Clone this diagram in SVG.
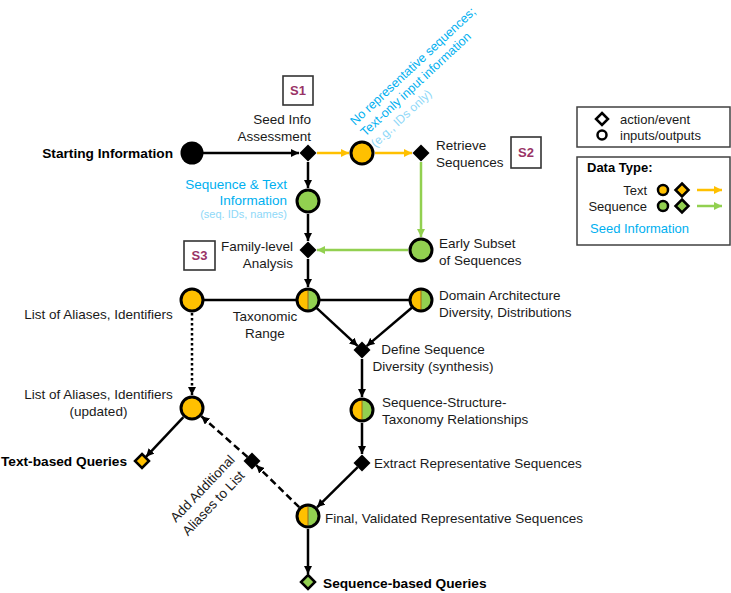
<svg xmlns="http://www.w3.org/2000/svg" width="731" height="593" viewBox="0 0 731 593">
<style>
text{font-family:"Liberation Sans",Arial,sans-serif;font-size:13.5px;fill:#1a1a1a}
.b{font-weight:bold;font-size:13.7px;fill:#000}
.blue{fill:#00B0F0}
.lblue{fill:#8ED8F8;font-size:11px}
.s{font-weight:bold;font-size:13px;fill:#993366}
.sbox{fill:#fff;stroke:#333;stroke-width:1.6}
.c{stroke:#000;stroke-width:2.5;fill:none}
.co{stroke:#FFC000;stroke-width:2.5;fill:none}
.cg{stroke:#92D050;stroke-width:2.5;fill:none}
.node{stroke:#000;stroke-width:3}
.o{fill:#FFC000}
.g{fill:#92D050}
.dia{fill:#000}
</style>
<defs>
<marker id="ak" viewBox="0 0 10 10" refX="10" refY="5" markerWidth="8" markerHeight="8" markerUnits="userSpaceOnUse" orient="auto"><path d="M0,0 L10,5 L0,10 z" fill="#000"/></marker>
<marker id="ao" viewBox="0 0 10 10" refX="10" refY="5" markerWidth="8" markerHeight="8" markerUnits="userSpaceOnUse" orient="auto"><path d="M0,0 L10,5 L0,10 z" fill="#FFC000"/></marker>
<marker id="ag" viewBox="0 0 10 10" refX="10" refY="5" markerWidth="8" markerHeight="8" markerUnits="userSpaceOnUse" orient="auto"><path d="M0,0 L10,5 L0,10 z" fill="#92D050"/></marker>
</defs>
<rect width="731" height="593" fill="#fff"/>

<g id="connectors">
<line class="c" x1="203" y1="153" x2="299" y2="153" marker-end="url(#ak)"/>
<line class="co" x1="317" y1="153" x2="349" y2="153" marker-end="url(#ao)"/>
<line class="co" x1="375" y1="153" x2="412" y2="153" marker-end="url(#ao)"/>
<line class="c" x1="308" y1="162" x2="308" y2="188" marker-end="url(#ak)"/>
<line class="cg" x1="421" y1="162" x2="421" y2="237" marker-end="url(#ag)"/>
<line class="cg" x1="408" y1="250" x2="317" y2="250" marker-end="url(#ag)"/>
<line class="c" x1="308" y1="214" x2="308" y2="241" marker-end="url(#ak)"/>
<line class="c" x1="308" y1="259" x2="308" y2="287" marker-end="url(#ak)"/>
<line class="c" x1="200" y1="300" x2="414" y2="300"/>
<line class="c" x1="316.8" y1="308.2" x2="357.6" y2="345.9" marker-end="url(#ak)"/>
<line class="c" x1="411.8" y1="307.8" x2="366.6" y2="346.1" marker-end="url(#ak)"/>
<line class="c" x1="192" y1="313" x2="192" y2="395" stroke-dasharray="2.5 2.5" marker-end="url(#ak)"/>
<line class="c" x1="362" y1="359" x2="362" y2="397" marker-end="url(#ak)"/>
<line class="c" x1="362" y1="423" x2="362" y2="454" marker-end="url(#ak)"/>
<line class="c" x1="357.7" y1="467.2" x2="317" y2="507.3" marker-end="url(#ak)"/>
<line class="c" x1="299.2" y1="507.2" x2="256.2" y2="465.2" stroke-dasharray="7 4" marker-end="url(#ak)"/>
<line class="c" x1="247.5" y1="457" x2="201.4" y2="416.3" stroke-dasharray="7 4" marker-end="url(#ak)"/>
<line class="c" x1="183.4" y1="417.1" x2="146" y2="456.8" marker-end="url(#ak)"/>
<line class="c" x1="308" y1="529" x2="308" y2="574" marker-end="url(#ak)"/>
</g>

<g id="start">
<circle cx="192" cy="153" r="11.5" fill="#000"/>
<text class="b" x="173" y="158" text-anchor="end">Starting Information</text>
</g>

<g id="seed-info">
<path class="dia" d="M308,144.5 L316.5,153 L308,161.5 L299.5,153 z"/>
<text x="311" y="124" text-anchor="end">Seed Info</text>
<text x="311" y="141" text-anchor="end">Assessment</text>
<rect class="sbox" x="283" y="76" width="30" height="29"/>
<text class="s" x="298" y="95" text-anchor="middle">S1</text>
</g>

<g id="text-only">
<circle class="node o" cx="362" cy="153" r="11"/>
<g transform="translate(355,126) rotate(-43)">
<text class="blue" x="0" y="0" style="font-size:12.5px">No representative sequences;</text>
<text class="blue" x="0" y="15" style="font-size:12.5px">Text-only input information</text>
<text class="lblue" x="0" y="30" style="font-size:12px">(e.g., IDs only)</text>
</g>
</g>

<g id="retrieve">
<path class="dia" d="M421,144.5 L429.5,153 L421,161.5 L412.5,153 z"/>
<text x="436" y="150">Retrieve</text>
<text x="436" y="167">Sequences</text>
<rect class="sbox" x="511" y="137" width="30" height="31"/>
<text class="s" x="526" y="157" text-anchor="middle">S2</text>
</g>

<g id="seq-text-info">
<circle class="node g" cx="308" cy="201" r="11"/>
<text class="blue" x="287" y="189" text-anchor="end">Sequence &amp; Text</text>
<text class="blue" x="287" y="205" text-anchor="end">Information</text>
<text class="lblue" x="287" y="218" text-anchor="end">(seq. IDs, names)</text>
</g>

<g id="family">
<path class="dia" d="M308,241.5 L316.5,250 L308,258.5 L299.5,250 z"/>
<text x="293" y="251" text-anchor="end">Family-level</text>
<text x="293" y="268" text-anchor="end">Analysis</text>
<rect class="sbox" x="184" y="241" width="31" height="29"/>
<text class="s" x="199.5" y="260" text-anchor="middle">S3</text>
</g>

<g id="early-subset">
<circle class="node g" cx="421" cy="250" r="11"/>
<text x="439" y="248">Early Subset</text>
<text x="439" y="265">of Sequences</text>
</g>

<g id="aliases">
<circle class="node o" cx="192" cy="300" r="11"/>
<text x="98.5" y="319" text-anchor="middle">List of Aliases, Identifiers</text>
</g>

<g id="taxonomic">
<path class="o" d="M308,289 A11,11 0 0 0 308,311 z"/>
<path class="g" d="M308,289 A11,11 0 0 1 308,311 z"/>
<line x1="308" y1="289" x2="308" y2="311" stroke="#9a6a1a" stroke-width="1"/>
<circle class="node" cx="308" cy="300" r="11" fill="none"/>
<text x="265" y="321" text-anchor="middle">Taxonomic</text>
<text x="265" y="338" text-anchor="middle">Range</text>
</g>

<g id="domain">
<path class="o" d="M421,289 A11,11 0 0 0 421,311 z"/>
<path class="g" d="M421,289 A11,11 0 0 1 421,311 z"/>
<line x1="421" y1="289" x2="421" y2="311" stroke="#9a6a1a" stroke-width="1"/>
<circle class="node" cx="421" cy="300" r="11" fill="none"/>
<text x="439" y="300">Domain Architecture</text>
<text x="439" y="317">Diversity, Distributions</text>
</g>

<g id="define">
<path class="dia" d="M362,341.5 L370.5,350 L362,358.5 L353.5,350 z"/>
<text x="433" y="354" text-anchor="middle">Define Sequence</text>
<text x="433" y="371" text-anchor="middle">Diversity (synthesis)</text>
</g>

<g id="seq-struct">
<path class="o" d="M362,399 A11,11 0 0 0 362,421 z"/>
<path class="g" d="M362,399 A11,11 0 0 1 362,421 z"/>
<line x1="362" y1="399" x2="362" y2="421" stroke="#9a6a1a" stroke-width="1"/>
<circle class="node" cx="362" cy="410" r="11" fill="none"/>
<text x="382" y="407">Sequence-Structure-</text>
<text x="382" y="424">Taxonomy Relationships</text>
</g>

<g id="extract">
<path class="dia" d="M362,454.5 L370.5,463 L362,471.5 L353.5,463 z"/>
<text x="374" y="468">Extract Representative Sequences</text>
</g>

<g id="final">
<path class="o" d="M308,505 A11,11 0 0 0 308,527 z"/>
<path class="g" d="M308,505 A11,11 0 0 1 308,527 z"/>
<line x1="308" y1="505" x2="308" y2="527" stroke="#9a6a1a" stroke-width="1"/>
<circle class="node" cx="308" cy="516" r="11" fill="none"/>
<text x="325" y="523">Final, Validated Representative Sequences</text>
</g>

<g id="add-aliases">
<path class="dia" d="M252,452.5 L260.5,461 L252,469.5 L243.5,461 z"/>
<g transform="translate(176,523) rotate(-46.4)">
<text x="0" y="0">Add Additional</text>
<text x="-1.5" y="18">Aliases to List</text>
</g>
</g>

<g id="aliases-updated">
<circle class="node o" cx="192" cy="408" r="11"/>
<text x="98.5" y="399" text-anchor="middle">List of Aliases, Identifiers</text>
<text x="98.5" y="416" text-anchor="middle">(updated)</text>
</g>

<g id="text-queries">
<path class="o" d="M142,454 L149,461 L142,468 L135,461 z" stroke="#000" stroke-width="2.5"/>
<text class="b" x="127" y="466" text-anchor="end">Text-based Queries</text>
</g>

<g id="seq-queries">
<path class="g" d="M308,575 L315,582 L308,589 L301,582 z" stroke="#000" stroke-width="2.5"/>
<text class="b" x="323" y="588">Sequence-based Queries</text>
</g>

<g id="legend">
<rect x="577" y="107" width="153" height="40" fill="#fff" stroke="#404040" stroke-width="1.5"/>
<path d="M602,113 L608,119 L602,125 L596,119 z" fill="#fff" stroke="#000" stroke-width="2.5"/>
<text x="620" y="124" style="font-size:13px">action/event</text>
<circle cx="602" cy="135" r="4.5" fill="#fff" stroke="#000" stroke-width="2.5"/>
<text x="620" y="140" style="font-size:13px">inputs/outputs</text>
<rect x="577" y="157" width="153" height="88" fill="#fff" stroke="#404040" stroke-width="1.5"/>
<text x="587" y="172" style="font-weight:bold;font-size:13px;fill:#000">Data Type:</text>
<text x="647" y="195" text-anchor="end" style="font-size:13px">Text</text>
<circle cx="663" cy="190" r="5" fill="#FFC000" stroke="#000" stroke-width="2.5"/>
<path d="M682,183.5 L688.5,190 L682,196.5 L675.5,190 z" fill="#FFC000" stroke="#000" stroke-width="2.5"/>
<line x1="697" y1="190" x2="722" y2="190" class="co" marker-end="url(#ao)"/>
<text x="647" y="211" text-anchor="end" style="font-size:13px">Sequence</text>
<circle cx="663" cy="206" r="5" fill="#92D050" stroke="#000" stroke-width="2.5"/>
<path d="M682,199.5 L688.5,206 L682,212.5 L675.5,206 z" fill="#92D050" stroke="#000" stroke-width="2.5"/>
<line x1="697" y1="206" x2="722" y2="206" class="cg" marker-end="url(#ag)"/>
<text x="590" y="233" class="blue" style="font-size:13px">Seed Information</text>
</g>
</svg>
